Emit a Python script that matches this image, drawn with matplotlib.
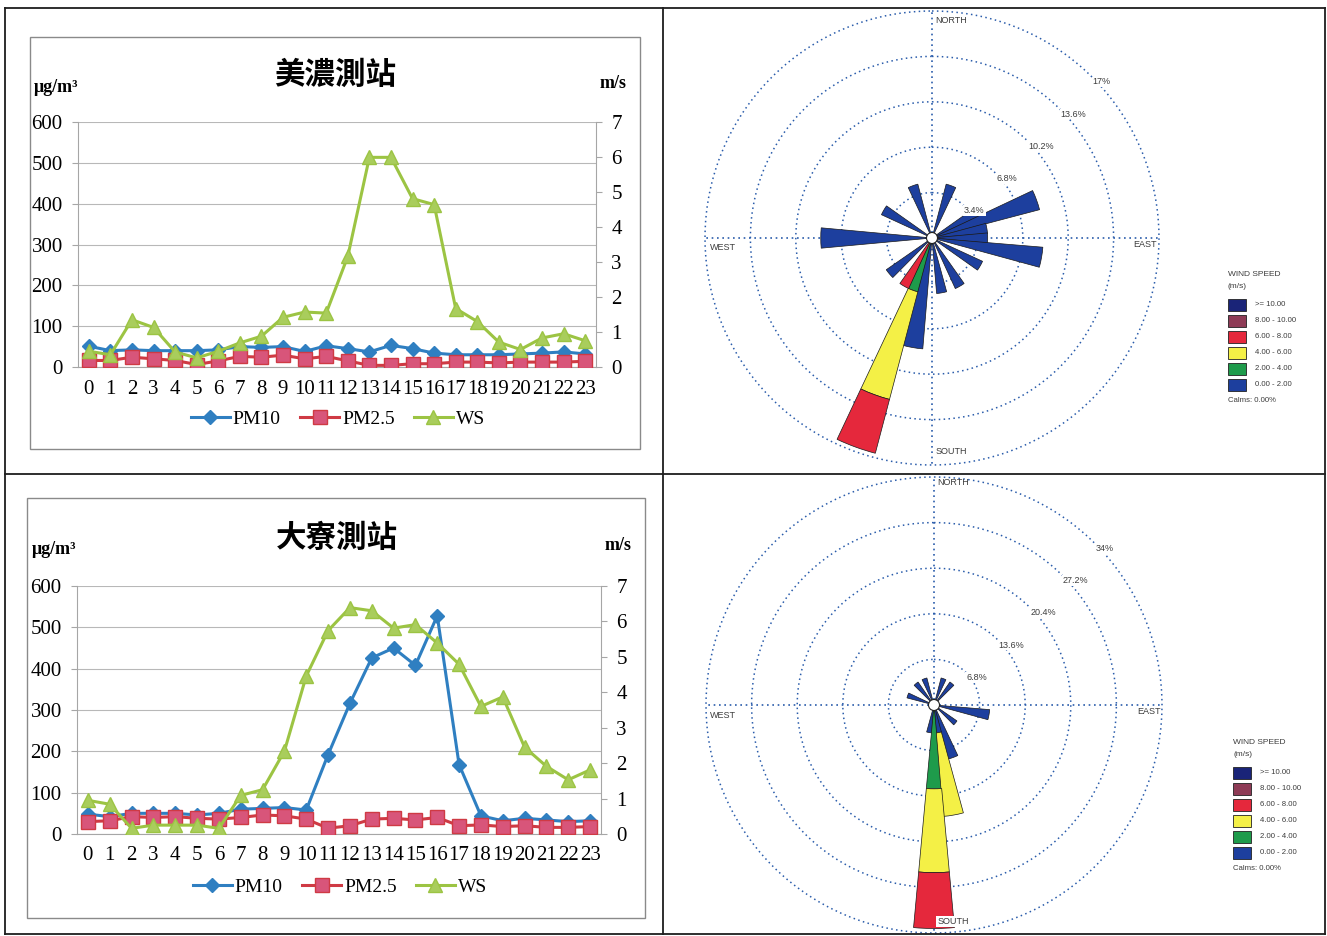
import matplotlib
matplotlib.use("Agg")
import matplotlib.pyplot as plt
import numpy as np
from matplotlib.patches import Rectangle, Circle
from matplotlib.lines import Line2D

# ---------------- data ----------------
hours = list(range(24))

# 美濃測站
minong_pm10 = [51, 40, 42, 40, 40, 40, 42, 50, 48, 50, 38, 52,
               45, 37, 53, 45, 34, 30, 30, 30, 32, 34, 37, 32]
minong_pm25 = [16, 16, 24, 20, 16, 6, 15, 26, 24, 29, 20, 26,
               15, 4, 4, 8, 8, 12, 12, 10, 12, 12, 12, 14]
minong_ws = [0.45, 0.35, 1.35, 1.13, 0.43, 0.26, 0.45, 0.69, 0.88, 1.42, 1.57, 1.54,
             3.16, 5.99, 5.99, 4.81, 4.64, 1.67, 1.30, 0.71, 0.50, 0.83, 0.95, 0.75]

# 大寮測站
daliao_pm10 = [48, 42, 50, 50, 50, 46, 50, 60, 62, 64, 58, 192,
               316, 426, 450, 408, 528, 168, 44, 32, 38, 34, 30, 32]
daliao_pm25 = [30, 32, 42, 40, 42, 38, 36, 40, 46, 44, 36, 14,
               20, 36, 38, 34, 40, 20, 22, 18, 20, 16, 16, 18]
daliao_ws = [0.95, 0.84, 0.16, 0.25, 0.25, 0.25, 0.16, 1.09, 1.25, 2.34, 4.46, 5.74,
             6.39, 6.30, 5.81, 5.91, 5.39, 4.79, 3.60, 3.87, 2.45, 1.91, 1.53, 1.81]

# wind rose frequencies (%) per direction (degrees) and speed class
minong_dirs = [20, 60, 70, 80, 90, 100, 120, 150, 170, 190, 200, 210, 230, 270, 300, 340]
minong_0_2 = [4.17, 4.17, 8.33, 4.17, 4.17, 8.33, 4.17, 4.17, 4.17, 8.33, 0, 0, 4.17, 8.33, 4.17, 4.17]
minong_2_4 = [0, 0, 0, 0, 0, 0, 0, 0, 0, 0, 4.17, 0, 0, 0, 0, 0]
minong_4_6 = [0, 0, 0, 0, 0, 0, 0, 0, 0, 0, 8.33, 0, 0, 0, 0, 0]
minong_6_8 = [0, 0, 0, 0, 0, 0, 0, 0, 0, 0, 4.17, 4.17, 0, 0, 0, 0]

daliao_dirs = [20, 40, 100, 130, 160, 170, 180, 190, 290, 320, 340]
daliao_0_2 = [4.17, 4.17, 8.33, 4.17, 8.33, 4.17, 0, 4.17, 4.17, 4.17, 4.17]
daliao_2_4 = [0, 0, 0, 0, 0, 0, 12.5, 0, 0, 0, 0]
daliao_4_6 = [0, 0, 0, 0, 0, 12.5, 12.5, 0, 0, 0, 0]
daliao_6_8 = [0, 0, 0, 0, 0, 0, 8.33, 0, 0, 0, 0]

speed_labels = [">= 10.00", "8.00 - 10.00", "6.00 - 8.00", "4.00 - 6.00", "2.00 - 4.00", "0.00 - 2.00"]
series_labels = ["PM10", "PM2.5", "WS"]

# ---------------- styling ----------------
W, H = 1327, 936
SERIF = "Liberation Serif"
CJK = ["Noto Sans CJK TC", "DejaVu Sans"]
SANS = "Liberation Sans"

C_PM10 = "#2f7fc1"
C_PM25 = "#cf3a44"
C_PM25_FACE = "#d8557a"
C_WS = "#9cc443"
C_WS_FACE = "#a9cd5c"

SPEED_COLORS = ["#1a2478", "#8e3b56", "#e5283c", "#f4f046", "#1e9b4b", "#1d3f9e"]
RING_COLOR = "#2a5cab"
TEXT_GRAY = "#3c3c3c"

fig = plt.figure(figsize=(W / 100, H / 100), dpi=100)
fig.patch.set_facecolor("white")


def fx(x):
    return x / W


def fy(y):
    return 1 - y / H


def hline(x0, x1, y, **kw):
    fig.add_artist(Line2D([fx(x0), fx(x1)], [fy(y), fy(y)], **kw))


def vline(x, y0, y1, **kw):
    fig.add_artist(Line2D([fx(x), fx(x)], [fy(y0), fy(y1)], **kw))


# table frame
frame_kw = dict(color="#1e1e1e", lw=1.3)
hline(5, 1325, 8, **frame_kw)
hline(5, 1325, 934, **frame_kw)
hline(5, 1325, 474, **frame_kw)
vline(5, 8, 934, **frame_kw)
vline(663, 8, 934, **frame_kw)
vline(1325, 8, 934, **frame_kw)


def line_panel(box, ax_px, title, title_xy, unit_l_xy, unit_r_xy, legend_xy, pm10, pm25, ws):
    bx0, by0, bx1, by1 = box
    fig.add_artist(Rectangle((fx(bx0), fy(by1)), fx(bx1) - fx(bx0), fy(by0) - fy(by1),
                             fill=False, ec="#8a8a8a", lw=1.0))
    l, t, r, b = ax_px
    ax = fig.add_axes([fx(l), fy(b), fx(r) - fx(l), fy(t) - fy(b)])
    ax.set_xlim(-0.5, 23.5)
    ax.set_ylim(0, 600)
    ax.set_yticks(range(0, 601, 100))
    ax.set_xticks(hours)
    ax.set_xticklabels([str(h) for h in hours])
    ax.yaxis.grid(True, color="#b8b8b8", lw=0.8)
    ax.set_axisbelow(True)
    for s in ("left", "right", "bottom"):
        ax.spines[s].set_color("#a6a6a6")
        ax.spines[s].set_linewidth(0.8)
    ax.spines["top"].set_visible(False)
    ax.tick_params(axis="x", length=0, pad=9, labelsize=15)
    ax.tick_params(axis="y", length=4, width=0.8, color="#a6a6a6", pad=7, labelsize=15)
    for lab in ax.get_xticklabels() + ax.get_yticklabels():
        lab.set_fontfamily(SERIF)

    ax.plot(hours, pm10, color=C_PM10, lw=2.2, marker="D", ms=7.5, mfc=C_PM10, mec=C_PM10, zorder=3)
    ax.plot(hours, pm25, color=C_PM25, lw=2.2, marker="s", ms=9.5, mfc=C_PM25_FACE, mec=C_PM25, zorder=3)

    ax2 = ax.twinx()
    ax2.set_ylim(0, 7)
    ax2.set_yticks(range(0, 8))
    for s in ("left", "right", "bottom", "top"):
        ax2.spines[s].set_visible(False)
    ax2.tick_params(axis="y", length=4, width=0.8, color="#a6a6a6", pad=7, labelsize=15)
    for lab in ax2.get_yticklabels():
        lab.set_fontfamily(SERIF)
    ax2.plot(hours, ws, color=C_WS, lw=2.2, marker="^", ms=10, mfc=C_WS_FACE, mec=C_WS, zorder=3)

    fig.text(fx(title_xy[0]), fy(title_xy[1]), title, family=CJK, fontsize=22, fontweight="bold",
             ha="center", va="center")
    fig.text(fx(unit_l_xy[0]), fy(unit_l_xy[1]), "μg/m³", family=SERIF, fontsize=13, fontweight="bold",
             ha="left", va="center")
    fig.text(fx(unit_r_xy[0]), fy(unit_r_xy[1]), "m/s", family=SERIF, fontsize=13, fontweight="bold",
             ha="left", va="center")

    handles = [
        Line2D([], [], color=C_PM10, lw=2.2, marker="D", ms=7.5, mfc=C_PM10, mec=C_PM10),
        Line2D([], [], color=C_PM25, lw=2.2, marker="s", ms=9.5, mfc=C_PM25_FACE, mec=C_PM25),
        Line2D([], [], color=C_WS, lw=2.2, marker="^", ms=10, mfc=C_WS_FACE, mec=C_WS),
    ]
    fig.legend(handles, series_labels, loc="center", bbox_to_anchor=(fx(legend_xy[0]), fy(legend_xy[1])),
               ncol=3, frameon=False, prop={"family": SERIF, "size": 14},
               handlelength=2.0, handletextpad=0.15, columnspacing=1.0, numpoints=1)


line_panel((30, 37, 640, 449), (78, 122, 596, 367), "美濃測站", (335, 75), (34, 88), (600, 83),
           (338, 419), minong_pm10, minong_pm25, minong_ws)
line_panel((27, 498, 645, 918), (77, 586, 601, 834), "大寮測站", (337, 538), (32, 549), (605, 546),
           (340, 887), daliao_pm10, daliao_pm25, daliao_ws)


def wind_rose(center, R, step, dirs, classes, card_pos, south_box, legend_xy):
    cx, cy = center
    rmax = 5 * step
    ax = fig.add_axes([fx(cx - R), fy(cy + R), 2 * R / W, 2 * R / H], projection="polar")
    ax.set_theta_zero_location("N")
    ax.set_theta_direction(-1)
    ax.set_ylim(0, rmax)
    ax.axis("off")

    th = np.linspace(0, 2 * np.pi, 721)
    dot = (0, (1.0, 2.2))
    for k in range(1, 6):
        ax.plot(th, np.full_like(th, k * step), color=RING_COLOR, lw=1.1, ls=dot, zorder=1, clip_on=False)
    for a in (0, 90, 180, 270):
        ax.plot([np.radians(a)] * 2, [0, rmax], color=RING_COLOR, lw=1.2, ls=dot, zorder=1, clip_on=False)

    theta = np.radians(dirs)
    width = np.radians(10.5)
    cum = np.zeros(len(dirs))
    # speed classes stacked outward: 0-2, 2-4, 4-6, 6-8
    class_colors = [SPEED_COLORS[5], SPEED_COLORS[4], SPEED_COLORS[3], SPEED_COLORS[2]]
    for vals, col in zip(classes, class_colors):
        vals = np.asarray(vals, dtype=float)
        m = vals > 0
        ax.bar(theta[m], vals[m], width=width, bottom=cum[m], color=col,
               edgecolor="#1a1a1a", lw=0.5, zorder=3)
        cum += vals

    ax.add_artist(Circle((0.5, 0.5), 5.5 / (2 * R), transform=ax.transAxes, fc="white", ec="#222222",
                         lw=0.8, zorder=5))

    for k in range(1, 6):
        v = k * step
        ax.text(np.radians(45), v, f"{v:g}%", fontsize=6.5, family=SANS, color=TEXT_GRAY,
                ha="left", va="top", zorder=6,
                bbox=dict(fc="white", ec="none", pad=0.6))

    names = ["NORTH", "SOUTH", "WEST", "EAST"]
    has = ["left", "left", "left", "right"]
    for name, (px, py), ha in zip(names, card_pos, has):
        bb = dict(fc="white", ec="none", pad=0.8) if (name == "SOUTH" and south_box) else None
        ax.text(px, py, name, transform=ax.transAxes, fontsize=6.5, family=SANS, color=TEXT_GRAY,
                ha=ha, va="center", zorder=6, bbox=bb)

    lx, ly = legend_xy
    fig.text(fx(lx), fy(ly), "WIND SPEED", fontsize=6, family=SANS, color=TEXT_GRAY, ha="left", va="center")
    fig.text(fx(lx), fy(ly + 12), "(m/s)", fontsize=6, family=SANS, color=TEXT_GRAY, ha="left", va="center")
    for i, (lab, col) in enumerate(zip(speed_labels, SPEED_COLORS)):
        yc = ly + 31 + 16 * i
        fig.add_artist(Rectangle((fx(lx), fy(yc + 6)), 18 / W, 12 / H, fc=col, ec="#222222", lw=0.6))
        fig.text(fx(lx + 27), fy(yc), lab, fontsize=5.6, family=SANS, color=TEXT_GRAY, ha="left", va="center")
    fig.text(fx(lx), fy(ly + 127), "Calms: 0.00%", fontsize=5.6, family=SANS, color=TEXT_GRAY,
             ha="left", va="center")


wind_rose((932, 238), 227, 3.4, minong_dirs, [minong_0_2, minong_2_4, minong_4_6, minong_6_8],
          [(0.507, 0.980), (0.507, 0.029), (0.011, 0.478), (0.995, 0.485)], False, (1228, 274))
wind_rose((934, 705), 228, 6.8, daliao_dirs, [daliao_0_2, daliao_2_4, daliao_4_6, daliao_6_8],
          [(0.507, 0.987), (0.507, 0.026), (0.009, 0.478), (0.998, 0.485)], True, (1233, 742))

fig.savefig("out.png", dpi=100, facecolor="white")
